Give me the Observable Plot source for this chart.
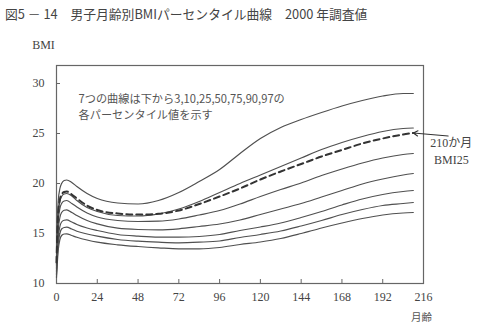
<!DOCTYPE html>
<html><head><meta charset="utf-8">
<script src="https://cdn.jsdelivr.net/npm/d3@7"></script>
<script src="https://cdn.jsdelivr.net/npm/@observablehq/plot@0.6"></script>
<style>
body{margin:0;background:#fff;}
#title{height:26px;box-sizing:border-box;padding:3px 0 0 5px;font-family:"Noto Sans CJK JP",sans-serif;font-size:12.8px;color:#444;line-height:22px;white-space:pre;}
</style></head><body>
<div id="title">図5 － 14　男子月齢別BMIパーセンタイル曲線　2000 年調査値</div>
<div id="chart"></div>
<script>
const titleText = "図5 － 14　男子月齢別BMIパーセンタイル曲線　2000 年調査値";
const xTicks = [0, 24, 48, 72, 96, 120, 144, 168, 192, 216];
const yTicks = [10, 15, 20, 25, 30];
const xLabel = "月齢";
const yLabel = "BMI";
const noteText = "7つの曲線は下から3,10,25,50,75,90,97の\n各パーセンタイル値を示す";
const endNote = "210か月\nBMI25";

const months = [0, 1, 2, 3, 4.5, 6, 9, 12, 18, 24, 36, 48, 60, 72, 84, 96, 108, 120, 132, 144, 156, 168, 180, 192, 204, 210];
const p97 = [12.4, 18.2, 19.5, 20.0, 20.3, 20.35, 20.1, 19.7, 19.0, 18.5, 18.05, 17.95, 18.3, 19.1, 20.2, 21.4, 23.0, 24.5, 25.6, 26.4, 27.1, 27.75, 28.3, 28.75, 29.0, 29.0];
const p90 = [12.1, 16.9, 18.2, 18.7, 18.95, 19.0, 18.75, 18.3, 17.6, 17.2, 16.8, 16.75, 16.95, 17.45, 18.2, 19.1, 20.0, 20.85, 21.7, 22.55, 23.4, 24.1, 24.7, 25.2, 25.5, 25.55];
const p75 = [11.8, 16.2, 17.5, 18.0, 18.25, 18.3, 18.0, 17.65, 17.05, 16.65, 16.3, 16.2, 16.23, 16.45, 16.85, 17.3, 17.95, 18.7, 19.4, 20.05, 20.8, 21.45, 22.05, 22.55, 22.9, 23.0];
const p50 = [11.5, 15.3, 16.6, 17.1, 17.33, 17.37, 17.1, 16.8, 16.3, 15.97, 15.53, 15.4, 15.37, 15.47, 15.7, 15.95, 16.35, 16.9, 17.45, 18.0, 18.65, 19.3, 19.95, 20.45, 20.85, 21.0];
const p25 = [11.2, 14.5, 15.7, 16.15, 16.33, 16.37, 16.15, 15.9, 15.55, 15.3, 14.9, 14.73, 14.63, 14.63, 14.7, 14.9, 15.3, 15.65, 16.05, 16.6, 17.2, 17.85, 18.45, 18.9, 19.2, 19.3];
const p10 = [10.9, 13.9, 15.0, 15.45, 15.6, 15.63, 15.45, 15.23, 14.95, 14.73, 14.4, 14.23, 14.13, 14.07, 14.13, 14.25, 14.6, 14.9, 15.25, 15.75, 16.3, 16.9, 17.4, 17.8, 18.0, 18.1];
const p3  = [10.6, 13.3, 14.4, 14.8, 14.95, 14.97, 14.8, 14.63, 14.35, 14.13, 13.87, 13.7, 13.57, 13.47, 13.47, 13.6, 13.9, 14.15, 14.5, 15.0, 15.55, 16.05, 16.5, 16.85, 17.05, 17.1];
const bmi25 = [12.1, 17.1, 18.4, 18.9, 19.15, 19.2, 18.9, 18.5, 17.8, 17.35, 17.0, 16.9, 16.97, 17.3, 17.95, 18.7, 19.5, 20.4, 21.2, 21.95, 22.7, 23.35, 24.0, 24.5, 24.9, 25.05];
const percentileNames = ["3", "10", "25", "50", "75", "90", "97"];
const arrowTail = {m: 230.5, v: 24.75};

const percentiles = [p3, p10, p25, p50, p75, p90, p97];
const solidRows = percentiles.flatMap((vals, k) => months.map((m, i) => ({m, v: vals[i], k: percentileNames[k]})));
const dashedRows = months.map((m, i) => ({m, v: bmi25[i]}));
const endPoint = {m: months[months.length - 1], v: bmi25[bmi25.length - 1]};

const jp = "'Noto Sans CJK JP', sans-serif";
const serif = "'Liberation Serif', 'Noto Sans CJK JP', serif";

const chart = Plot.plot({
  width: 500,
  height: 304,
  marginTop: 39,
  marginBottom: 47,
  marginLeft: 56,
  marginRight: 77,
  style: {fontFamily: serif, fontSize: "12px", color: "#444", background: "#fff"},
  x: {domain: [0, 216]},
  y: {domain: [10, 31.8]},
  marks: [
    Plot.frame({stroke: "#666", strokeWidth: 1.2}),
    Plot.axisX({ticks: xTicks, tickSize: 0, tickPadding: 9, label: null, fontSize: 12}),
    Plot.axisX({ticks: xTicks, tickSize: -4, tickFormat: () => "", label: null, stroke: "#666"}),
    Plot.axisY({ticks: yTicks, tickSize: 0, tickPadding: 12, label: null, fontSize: 12}),
    Plot.axisY({ticks: yTicks, tickSize: -4, tickFormat: () => "", label: null, stroke: "#666"}),
    Plot.line(solidRows, {x: "m", y: "v", z: "k", stroke: "#505050", strokeWidth: 1.2, curve: "monotone-x"}),
    Plot.line(dashedRows, {x: "m", y: "v", stroke: "#333", strokeWidth: 2, strokeDasharray: "6,4", curve: "monotone-x"}),
    Plot.arrow([{x1: arrowTail.m, y1: arrowTail.v, x2: endPoint.m, y2: endPoint.v}], {x1: "x1", y1: "y1", x2: "x2", y2: "y2", stroke: "#333", strokeWidth: 1.1, headLength: 7}),
    Plot.text([endNote], {x: () => endPoint.m, y: () => endPoint.v, text: d => d, dx: 38, dy: 2, lineAnchor: "top", lineHeight: 1.4, textAnchor: "middle", fontFamily: serif, fontSize: 12, fill: "#444"}),
    Plot.text([noteText], {frameAnchor: "top-left", text: d => d, dx: 22, dy: 27, lineAnchor: "top", lineHeight: 1.36, textAnchor: "start", fontFamily: jp, fontSize: 11.2, fill: "#555"}),
    Plot.text([yLabel], {frameAnchor: "top-left", text: d => d, dx: -13, dy: -20, lineAnchor: "middle", textAnchor: "middle", fontFamily: serif, fontSize: 12, fill: "#444"}),
    Plot.text([xLabel], {frameAnchor: "bottom-right", text: d => d, dx: -2, dy: 34, lineAnchor: "middle", textAnchor: "middle", fontFamily: jp, fontSize: 10.5, fill: "#555"})
  ]
});
document.getElementById("title").textContent = titleText;
document.getElementById("chart").append(chart);
</script>
</body></html>
